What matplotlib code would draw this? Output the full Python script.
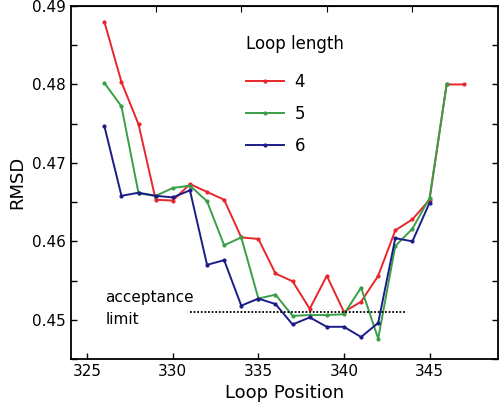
import numpy as np
import matplotlib.pyplot as plt

pos4 = np.arange(326, 348)
rmsd4 = [0.4880, 0.4803, 0.4749, 0.4653, 0.4652, 0.4673, 0.4663, 0.4653, 0.4605, 0.4603,
         0.4559, 0.4549, 0.4514, 0.4556, 0.4510, 0.4523, 0.4556, 0.4614, 0.4628, 0.4653,
         0.4800, 0.4800]
pos5 = np.arange(326, 347)
rmsd5 = [0.4802, 0.4772, 0.4661, 0.4658, 0.4668, 0.4671, 0.4651, 0.4595, 0.4605, 0.4527,
         0.4532, 0.4505, 0.4506, 0.4506, 0.4507, 0.4541, 0.4476, 0.4594, 0.4616, 0.4655,
         0.4800]
pos6 = np.arange(326, 346)
rmsd6 = [0.4747, 0.4658, 0.4662, 0.4658, 0.4656, 0.4665, 0.4570, 0.4576, 0.4518, 0.4527,
         0.4520, 0.4494, 0.4503, 0.4491, 0.4491, 0.4478, 0.4496, 0.4604, 0.4600, 0.4649]
acceptance = 0.451

fig = plt.figure(figsize=(5.02, 4.15), dpi=100)
ax = fig.add_axes([0.1414, 0.135, 0.8506, 0.8505])

ax.plot(pos4, rmsd4, color='#e8262b', lw=1.4, marker='o', ms=2, label='4')
ax.plot(pos5, rmsd5, color='#3a9e48', lw=1.4, marker='o', ms=2, label='5')
ax.plot(pos6, rmsd6, color='#1c1c88', lw=1.4, marker='o', ms=2, label='6')
ax.plot([331, 343.6], [acceptance, acceptance], color='black', ls=(0, (1, 1)), lw=1.3)
ax.text(326.05, 0.4514, 'acceptance\nlimit', fontsize=11, va='center', ha='left',
        linespacing=1.6)

ax.set_xlim(324.05, 349.0)
ax.set_ylim(0.4453, 0.49)
ax.set_xticks([325, 330, 335, 340, 345])
ax.set_yticks([0.45, 0.46, 0.47, 0.48, 0.49])
ax.set_yticklabels(['0.45', '0.46', '0.47', '0.48', '0.49'])
ax.set_yticks(np.arange(0.445, 0.49, 0.005), minor=True)
ax.tick_params(which='both', direction='in', labelsize=11, length=4, width=1,
               right=True)
ax.tick_params(axis='x', which='both', top=False)
top = ax.secondary_xaxis('top')
top.set_xticks([329, 334, 339, 344])
top.tick_params(direction='in', length=4, labeltop=False)
for s in ax.spines.values():
    s.set_linewidth(1.3)

ax.set_xlabel('Loop Position', fontsize=13)
ax.set_ylabel('RMSD', fontsize=13)

leg = ax.legend(title='Loop length', loc='upper left', bbox_to_anchor=(0.375, 0.96),
                frameon=False, fontsize=12, title_fontsize=12, handlelength=2.3,
                labelspacing=0.85, handletextpad=0.6)
leg._legend_box.align = 'left'
leg._legend_box.sep = 14

fig.savefig('out.png')
